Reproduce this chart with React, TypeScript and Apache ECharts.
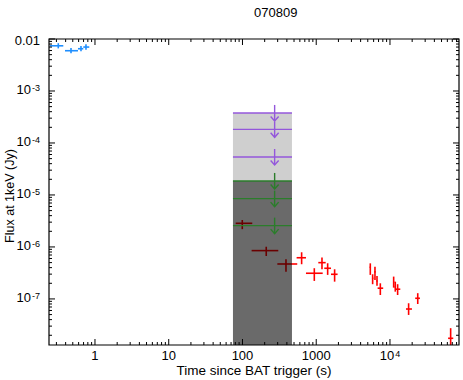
import React, { useEffect, useRef } from 'react';
import * as echarts from 'echarts';

const TITLE = '070809';
const X_NAME = 'Time since BAT trigger (s)';
const Y_NAME = 'Flux at 1keV (Jy)';

const X_MIN = 0.238;
const X_MAX = 86300;
const Y_MIN = 1.3e-8;
const Y_MAX = 0.01;

// tick labels (value, label, superscript)
const xTickValues = [1, 10, 100, 1000, 10000];
const xTickLabels = ['1', '10', '100', '1000', '10'];
const xTickSups = ['', '', '', '', '4'];
const yTickValues = [1e-2, 1e-3, 1e-4, 1e-5, 1e-6, 1e-7];
const yTickLabels = ['0.01', '10', '10', '10', '10', '10'];
const yTickSups = ['', '-3', '-4', '-5', '-6', '-7'];

// BAT points: [time, timeLo, timeHi, flux, fluxLo, fluxHi]
const batPoints = [
  [0.318, 0.245, 0.372, 7.4e-3, 6.6e-3, 8.3e-3],
  [0.473, 0.392, 0.588, 5.95e-3, 5.3e-3, 6.7e-3],
  [0.646, 0.588, 0.694, 6.5e-3, 5.8e-3, 7.3e-3],
  [0.755, 0.694, 0.837, 7.0e-3, 6.2e-3, 7.9e-3],
];

// XRT points: [time, timeLo, timeHi, flux, fluxLo, fluxHi]
const xrtPoints = [
  [99.4, 80.9, 135.8, 2.85e-6, 2.2e-6, 3.3e-6],
  [210, 133, 306, 8.5e-7, 6.7e-7, 1.01e-6],
  [389, 297, 553, 4.7e-7, 3.35e-7, 5.8e-7],
  [634, 542, 726, 6.2e-7, 4.65e-7, 7.9e-7],
  [942, 726, 1224, 3.12e-7, 2.22e-7, 3.9e-7],
  [1197, 1067, 1343, 4.99e-7, 3.72e-7, 6.3e-7],
  [1429, 1286, 1585, 3.89e-7, 2.9e-7, 4.86e-7],
  [1776, 1585, 1950, 2.98e-7, 2.15e-7, 3.72e-7],
  [5410, 5300, 5520, 4.06e-7, 2.9e-7, 4.84e-7],
  [5820, 5700, 5950, 2.5e-7, 1.92e-7, 2.98e-7],
  [6260, 6130, 6390, 3.31e-7, 2.32e-7, 4.18e-7],
  [6670, 6530, 6810, 2.22e-7, 1.8e-7, 2.77e-7],
  [7400, 6800, 8090, 1.61e-7, 1.19e-7, 2.0e-7],
  [11220, 11000, 11450, 2.1e-7, 1.65e-7, 2.69e-7],
  [11800, 11550, 12050, 1.7e-7, 1.38e-7, 2.15e-7],
  [12700, 11800, 13800, 1.54e-7, 1.19e-7, 1.92e-7],
  [17900, 16480, 19860, 6.4e-8, 4.92e-8, 8.26e-8],
  [23800, 21980, 25510, 1.03e-7, 8.0e-8, 1.29e-7],
  [66500, 61400, 72100, 1.75e-8, 1.0e-8, 2.74e-8],
];

// Upper limits: [timeLo, timeHi, timeArrow, flux]
const uvotLimits = [
  [74.3, 469, 273, 3.78e-4],
  [74.3, 469, 273, 1.83e-4],
  [74.3, 469, 273, 5.38e-5],
];
const whiteLimits = [
  [74.3, 469, 273, 1.86e-5],
  [74.3, 469, 273, 8.5e-6],
  [74.3, 469, 273, 2.57e-6],
];

// Shaded bands: [timeLo, timeHi, fluxTop, fluxBottom]
const lightBand = [[74.3, 469, 3.78e-4, 1.86e-5]];
const darkBand = [[74.3, 469, 1.86e-5, Y_MIN]];

const FONT = '"Liberation Sans", Arial, Helvetica, sans-serif';

function errorBarSeries(data: number[][], color: string) {
  return {
    type: 'custom',
    coordinateSystem: 'cartesian2d',
    clip: true,
    z: 2,
    encode: { x: [0, 1, 2], y: [3, 4, 5] },
    data,
    renderItem: (params: any, api: any) => {
      const t = api.value(0), tl = api.value(1), th = api.value(2);
      const f = api.value(3), fl = api.value(4), fh = api.value(5);
      const c = api.coord([t, f]);
      const l = api.coord([tl, f]);
      const r = api.coord([th, f]);
      const lo = api.coord([t, fl]);
      const hi = api.coord([t, fh]);
      const st = { stroke: color, lineWidth: 1.6 };
      return {
        type: 'group',
        children: [
          { type: 'line', shape: { x1: l[0], y1: c[1], x2: r[0], y2: c[1] }, style: st },
          { type: 'line', shape: { x1: c[0], y1: hi[1], x2: c[0], y2: lo[1] }, style: st },
        ],
      };
    },
  };
}

function limitSeries(data: number[][], color: string) {
  return {
    type: 'custom',
    coordinateSystem: 'cartesian2d',
    clip: false,
    z: 4,
    encode: { x: [0, 1], y: 3 },
    data,
    renderItem: (params: any, api: any) => {
      const tl = api.value(0), th = api.value(1), ta = api.value(2), f = api.value(3);
      const l = api.coord([tl, f]);
      const r = api.coord([th, f]);
      const a = api.coord([ta, f]);
      const st = { stroke: color, lineWidth: 1.4, fill: 'none' };
      return {
        type: 'group',
        children: [
          { type: 'line', shape: { x1: l[0], y1: l[1], x2: r[0], y2: r[1] }, style: st },
          { type: 'line', shape: { x1: a[0], y1: a[1] - 8, x2: a[0], y2: a[1] + 8 }, style: st },
          {
            type: 'polyline',
            shape: { points: [[a[0] - 4, a[1] + 3.5], [a[0], a[1] + 8], [a[0] + 4, a[1] + 3.5]] },
            style: st,
          },
        ],
      };
    },
  };
}

function bandSeries(data: number[][], fill: string) {
  return {
    type: 'custom',
    coordinateSystem: 'cartesian2d',
    clip: true,
    z: 3,
    encode: { x: [0, 1], y: [2, 3] },
    data,
    renderItem: (params: any, api: any) => {
      const p1 = api.coord([api.value(0), api.value(2)]);
      const p2 = api.coord([api.value(1), api.value(3)]);
      return {
        type: 'rect',
        shape: { x: p1[0], y: p1[1], width: p2[0] - p1[0], height: p2[1] - p1[1] },
        style: { fill },
      };
    },
  };
}

function richLabel(base: string, sup: string) {
  return sup ? `{b|${base}}{s|${sup}}` : `{b|${base}}`;
}

const rich = {
  b: { fontSize: 13, lineHeight: 12, fontFamily: FONT, fill: '#000', color: '#000' },
  s: { fontSize: 9, lineHeight: 12, fontFamily: FONT, fill: '#000', color: '#000', verticalAlign: 'top', padding: [0, 0, 0, 1] },
};

function axesSeries() {
  return {
    type: 'custom',
    coordinateSystem: 'cartesian2d',
    clip: false,
    z: 6,
    silent: true,
    data: [[1, 1e-5]],
    renderItem: (params: any, api: any) => {
      const children: any[] = [];
      const st = { stroke: '#000', lineWidth: 1 };
      const bl = api.coord([X_MIN, Y_MIN]);
      const tr = api.coord([X_MAX, Y_MAX]);
      // X ticks
      for (let d = -1; d <= 5; d++) {
        for (let m = 1; m <= 9; m++) {
          const v = m * Math.pow(10, d);
          if (v < X_MIN || v > X_MAX) continue;
          const len = m === 1 ? 6 : 3;
          const x = api.coord([v, Y_MIN])[0];
          children.push({ type: 'line', shape: { x1: x, y1: bl[1], x2: x, y2: bl[1] - len }, style: st });
          children.push({ type: 'line', shape: { x1: x, y1: tr[1], x2: x, y2: tr[1] + len }, style: st });
        }
      }
      // Y ticks
      for (let d = -9; d <= -2; d++) {
        for (let m = 1; m <= 9; m++) {
          const v = m * Math.pow(10, d);
          if (v < Y_MIN || v > Y_MAX * 1.0001) continue;
          const len = m === 1 ? 6 : 3;
          const y = api.coord([X_MIN, v])[1];
          children.push({ type: 'line', shape: { x1: bl[0], y1: y, x2: bl[0] + len, y2: y }, style: st });
          children.push({ type: 'line', shape: { x1: tr[0], y1: y, x2: tr[0] - len, y2: y }, style: st });
        }
      }
      // Frame
      children.push({
        type: 'rect',
        shape: { x: bl[0], y: tr[1], width: tr[0] - bl[0], height: bl[1] - tr[1] },
        style: { fill: 'none', stroke: '#000', lineWidth: 1.2 },
      });
      // X labels
      xTickValues.forEach((v, i) => {
        const x = api.coord([v, Y_MIN])[0];
        children.push({
          type: 'text',
          x,
          y: bl[1] + 10,
          style: { text: richLabel(xTickLabels[i], xTickSups[i]), rich, align: 'center', verticalAlign: 'middle' },
        });
      });
      // Y labels
      yTickValues.forEach((v, i) => {
        const y = api.coord([X_MIN, v])[1];
        children.push({
          type: 'text',
          x: bl[0] - 9,
          y: i === 0 ? y + 1 : y - 1,
          style: { text: richLabel(yTickLabels[i], yTickSups[i]), rich, align: 'right', verticalAlign: 'middle' },
        });
      });
      return { type: 'group', children };
    },
  };
}

export default function App() {
  const ref = useRef<HTMLDivElement>(null);
  useEffect(() => {
    if (!ref.current) return;
    const chart = echarts.init(ref.current, undefined, { renderer: 'svg' });
    chart.setOption({
      animation: false,
      backgroundColor: '#fff',
      grid: { left: 49, top: 39, right: 4, bottom: 35, containLabel: false },
      xAxis: {
        type: 'log',
        logBase: 10,
        min: X_MIN,
        max: X_MAX,
        axisLine: { show: false },
        axisTick: { show: false },
        axisLabel: { show: false },
        splitLine: { show: false },
      },
      yAxis: {
        type: 'log',
        logBase: 10,
        min: Y_MIN,
        max: Y_MAX,
        axisLine: { show: false },
        axisTick: { show: false },
        axisLabel: { show: false },
        splitLine: { show: false },
      },
      graphic: [
        {
          type: 'text',
          left: 254,
          top: 6,
          style: { text: TITLE, font: `13px ${FONT}`, fill: '#000', align: 'center' },
        },
        {
          type: 'text',
          x: 254,
          y: 370,
          style: { text: X_NAME, font: `13.5px ${FONT}`, lineHeight: 13, fill: '#000', align: 'center', verticalAlign: 'middle' },
        },
        {
          type: 'text',
          x: 10,
          y: 196,
          rotation: Math.PI / 2,
          style: { text: Y_NAME, font: `12.5px ${FONT}`, fill: '#000', align: 'center', verticalAlign: 'middle' },
        },
      ],
      series: [
        errorBarSeries(xrtPoints, '#ff0000'),
        errorBarSeries(batPoints, '#1f8fff'),
        bandSeries(lightBand, 'rgba(0,0,0,0.19)'),
        bandSeries(darkBand, 'rgba(0,0,0,0.585)'),
        limitSeries(uvotLimits, '#9457db'),
        limitSeries(whiteLimits, '#2b7d2b'),
        axesSeries(),
      ],
    });
    return () => chart.dispose();
  }, []);
  return (
    <div
      ref={ref}
      style={{ position: 'absolute', left: 0, top: 0, width: 463, height: 380 }}
    />
  );
}
